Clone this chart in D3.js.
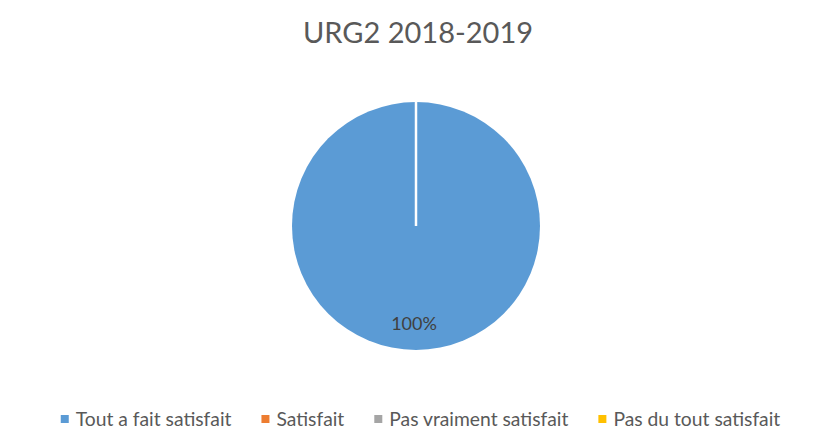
<!DOCTYPE html>
<html><head><meta charset="utf-8">
<script src="https://cdn.jsdelivr.net/npm/d3@7"></script>
<style>body{margin:0;background:#fff}svg{display:block}</style>
</head><body>
<script>
const title = "URG2 2018-2019";
const categories = ["Tout a fait satisfait", "Satisfait", "Pas vraiment satisfait", "Pas du tout satisfait"];
const values = [100, 0, 0, 0];
const colors = ["#5B9BD5", "#ED7D31", "#A5A5A5", "#FFC000"];

const W = 826, H = 447;
const font = "Lato, 'Open Sans', sans-serif";
const svg = d3.select("body").append("svg").attr("width", W).attr("height", H);

svg.append("text").attr("x", 418).attr("y", 43).attr("text-anchor", "middle")
  .attr("font-family", font).attr("font-size", 29).attr("fill", "#595959").text(title);

const cx = 416, cy = 226, r = 124;
const total = d3.sum(values);
const pie = d3.pie().sort(null).value(d => d)(values);
const arc = d3.arc().innerRadius(0).outerRadius(r);
const g = svg.append("g").attr("transform", `translate(${cx},${cy})`);
g.selectAll("path.slice").data(pie.filter(d => d.value > 0)).join("path")
  .attr("class", "slice").attr("d", arc).attr("fill", d => colors[d.index]);
g.selectAll("line.sep").data(pie.filter(d => d.value > 0)).join("line")
  .attr("x1", 0).attr("y1", 0)
  .attr("x2", d => r * Math.sin(d.startAngle)).attr("y2", d => -r * Math.cos(d.startAngle))
  .attr("stroke", "#fff").attr("stroke-width", 2.5);
const labelArc = d3.arc().innerRadius(r * 0.79).outerRadius(r * 0.79);
g.selectAll("text.lbl").data(pie.filter(d => d.value > 0)).join("text")
  .attr("class", "lbl")
  .attr("transform", d => { const [x, y] = labelArc.centroid(d); return `translate(${x - 2},${y + 6})`; })
  .attr("text-anchor", "middle").attr("font-family", font).attr("font-size", 18).attr("fill", "#404040")
  .text(d => d3.format(".0%")(d.value / total));

const lg = svg.append("g");
const items = lg.selectAll("g").data(categories).join("g");
items.append("rect").attr("width", 8).attr("height", 8).attr("y", -4).attr("fill", (d, i) => colors[i]);
items.append("text").attr("x", 15).attr("y", 7).attr("font-family", font).attr("font-size", 19.3)
  .attr("fill", "#595959").text(d => d);
let x = 0; const pos = [];
items.each(function () {
  const w = 15 + this.querySelector("text").getComputedTextLength();
  pos.push(x); x += w + 30;
});
const totalW = x - 30;
const startX = 420.5 - totalW / 2;
items.attr("transform", (d, i) => `translate(${startX + pos[i]},419)`);
</script>
</body></html>
